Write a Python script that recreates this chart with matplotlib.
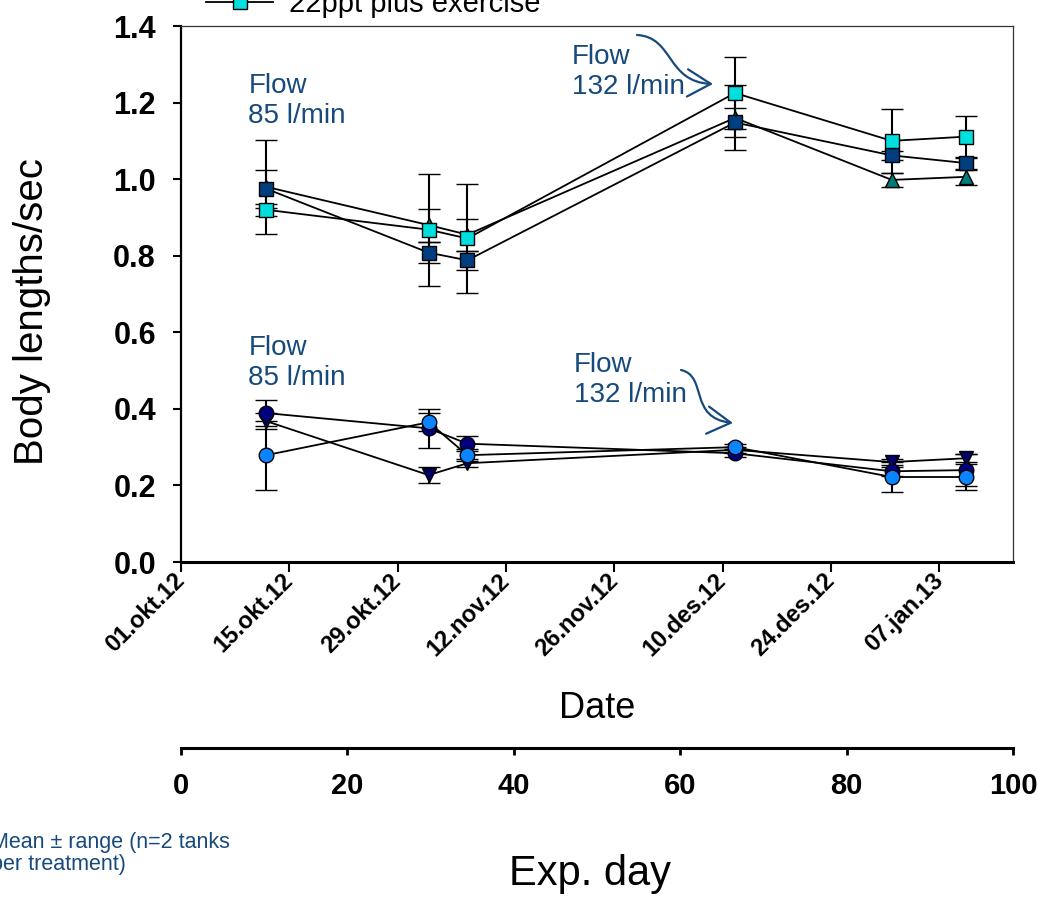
import datetime as dt
import matplotlib
matplotlib.use('Agg')
import matplotlib.pyplot as plt
from matplotlib.lines import Line2D
from matplotlib.patches import FancyArrowPatch
from matplotlib.path import Path

plt.rcParams['font.family'] = ['Liberation Sans', 'DejaVu Sans']

# sampling dates
dates = [dt.datetime(2012, 10, 12), dt.datetime(2012, 11, 2), dt.datetime(2012, 11, 7),
         dt.datetime(2012, 12, 11, 14), dt.datetime(2012, 12, 31, 20), dt.datetime(2013, 1, 10, 10)]

# upper group (exercise flow)
tri_up = [0.980, 0.880, 0.855, 1.160, 0.998, 1.006]
tri_up_err = [0.123, 0.043, 0.042, 0.085, 0.018, 0.020]
sq_dark = [0.975, 0.808, 0.788, 1.148, 1.062, 1.042]
sq_dark_err = [0.050, 0.027, 0.025, 0.038, 0.012, 0.017]
sq_cyan = [0.920, 0.868, 0.845, 1.225, 1.100, 1.111]
sq_cyan_err = [0.016, 0.146, 0.143, 0.095, 0.084, 0.055]

# lower group
tri_down = [0.368, 0.227, 0.258, 0.293, 0.261, 0.271]
tri_down_err = [0.020, 0.020, 0.010, 0.008, 0.008, 0.010]
circ_dark = [0.389, 0.349, 0.309, 0.284, 0.237, 0.240]
circ_dark_err = [0.033, 0.050, 0.020, 0.010, 0.012, 0.042]
circ_light = [0.279, 0.365, 0.279, 0.300, 0.222, 0.222]
circ_light_err = [0.090, 0.024, 0.015, 0.008, 0.040, 0.035]

tick_dates = [dt.datetime(2012, 10, 1) + dt.timedelta(days=14 * k) for k in range(8)]
tick_labels = ['01.okt.12', '15.okt.12', '29.okt.12', '12.nov.12',
               '26.nov.12', '10.des.12', '24.des.12', '07.jan.13']
y_ticks = [0.0, 0.2, 0.4, 0.6, 0.8, 1.0, 1.2, 1.4]
day_ticks = [0, 20, 40, 60, 80, 100]

note_col = '#174A7C'

fig = plt.figure(figsize=(10.38, 8.97), dpi=100)
ax = fig.add_axes([181 / 1038, 1 - 562 / 897, 832 / 1038, 536 / 897])

def series(y, e, marker, fc, ms=10.5):
    return ax.errorbar(dates, y, yerr=e, fmt='-', color='black', lw=1.3,
                       marker=marker, ms=ms, mfc=fc, mec='black', mew=1,
                       ecolor='black', elinewidth=1.5, capsize=8, capthick=1.5)

series(tri_up, tri_up_err, '^', '#007B7B')
series(sq_dark, sq_dark_err, 's', '#003F7F')
series(sq_cyan, sq_cyan_err, 's', '#00DEDE')
series(tri_down, tri_down_err, 'v', '#000066')
series(circ_dark, circ_dark_err, 'o', '#00007F')
series(circ_light, circ_light_err, 'o', '#0A84FF')

ax.set_xlim(dt.datetime(2012, 10, 1), dt.datetime(2013, 1, 16, 12))
ax.set_ylim(0, 1.4)
ax.set_xticks(tick_dates)
ax.set_xticklabels(tick_labels, rotation=45, ha='right', va='center',
                   rotation_mode='anchor', fontsize=17, fontweight='bold')
ax.set_yticks(y_ticks)
ax.set_yticklabels(['%.1f' % v for v in y_ticks], fontsize=22, fontweight='bold')
ax.tick_params(axis='y', direction='out', length=6, width=1.5, pad=12)
ax.tick_params(axis='x', direction='out', length=7, width=1.5, pad=4)
ax.spines['left'].set_linewidth(1.6)
ax.spines['bottom'].set_linewidth(2.2)
for s in ['top', 'right']:
    ax.spines[s].set_linewidth(0.9)
    ax.spines[s].set_color('#333333')

# flow notes
note_kw = dict(color=note_col, fontsize=20, va='center', ha='left', linespacing=1.2)
ax.text(dt.datetime(2012, 10, 9, 17), 1.205, 'Flow\n85 l/min', **note_kw)
ax.text(dt.datetime(2012, 10, 9, 17), 0.52, 'Flow\n85 l/min', **note_kw)
ax.text(dt.datetime(2012, 11, 20, 12), 1.28, 'Flow\n132 l/min', **note_kw)
ax.text(dt.datetime(2012, 11, 20, 18), 0.475, 'Flow\n132 l/min', **note_kw)

def curved_arrow(pts):
    verts = [(x / 1038, 1 - y / 897) for x, y in pts]
    path = Path(verts, [Path.MOVETO, Path.CURVE4, Path.CURVE4, Path.CURVE4])
    fig.patches.append(FancyArrowPatch(path=path, arrowstyle='->,head_length=0.6,head_width=0.35',
                                       mutation_scale=28, color=note_col, lw=1.6,
                                       transform=fig.transFigure))

curved_arrow([(637, 35), (674, 37), (666, 82), (713, 84)])
curved_arrow([(681, 370), (708, 376), (688, 418), (733, 423)])

# legend (cut off at top, only last entry visible)
h = Line2D([], [], color='black', lw=1.3, marker='s', ms=10.5, mfc='#00DEDE', mec='black')
fig.legend([h], ['22ppt plus exercise'], loc='center left',
           bbox_to_anchor=(206 / 1038, 1 - 4 / 897), frameon=False, fontsize=21,
           handlelength=2.3, handletextpad=0.55, borderpad=0, borderaxespad=0)

# labels
fig.text(597 / 1038, 1 - 718 / 897, 'Date', fontsize=26, ha='center', va='baseline')
fig.text(32 / 1038, 1 - 312 / 897, 'Body lengths/sec', fontsize=29, rotation=90,
         ha='center', va='center')

# experimental day axis
ax2 = fig.add_axes([181 / 1038, 1 - 748 / 897, 832 / 1038, 0.0001])
ax2.set_xlim(0, 100)
ax2.set_xticks(day_ticks)
ax2.set_xticklabels([str(d) for d in day_ticks], fontsize=21, fontweight='bold')
ax2.set_yticks([])
for s in ['top', 'left', 'right']:
    ax2.spines[s].set_visible(False)
ax2.spines['bottom'].set_linewidth(2.2)
ax2.tick_params(axis='x', direction='out', length=5, width=2, pad=12)
ax2.patch.set_visible(False)
fig.text(590 / 1038, 1 - 885 / 897, 'Exp. day', fontsize=30, ha='center', va='baseline')

fig.text(-9 / 1038, 1 - 832 / 897, 'Mean \u00b1 range (n=2 tanks\nper treatment)',
         fontsize=15.5, color=note_col, ha='left', va='top', linespacing=1.05)

fig.savefig('out.png', dpi=100)
